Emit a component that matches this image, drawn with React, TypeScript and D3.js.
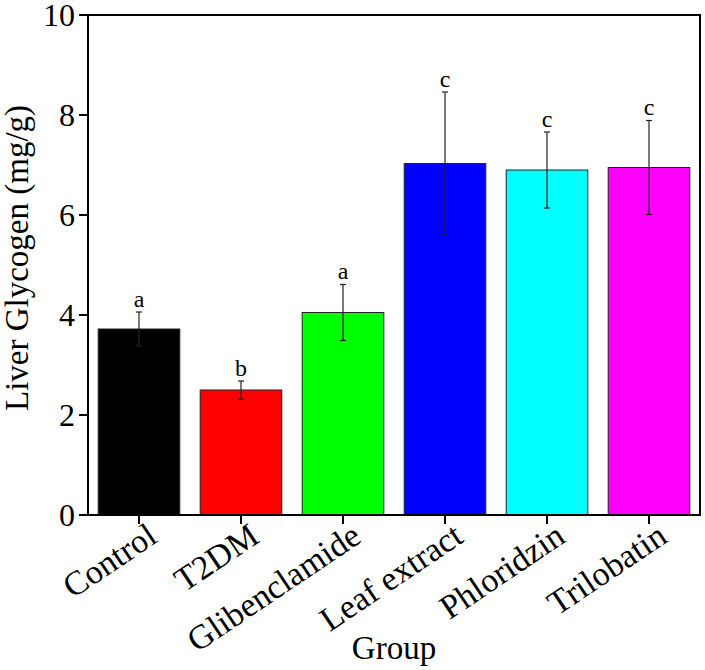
import React from "react";
import * as d3 from "d3";

const categories = ["Control", "T2DM", "Glibenclamide", "Leaf extract", "Phloridzin", "Trilobatin"];
const means = [3.72, 2.5, 4.05, 7.03, 6.9, 6.95];
const errors = [0.34, 0.18, 0.56, 1.43, 0.76, 0.94];
const letters = ["a", "b", "a", "c", "c", "c"];
const colors = ["#000000", "#ff0000", "#00ff00", "#0000ff", "#00ffff", "#ff00ff"];
const yTicks = [0, 2, 4, 6, 8, 10];

const W = 705;
const H = 670;
const left = 88;
const right = 700;
const top = 15;
const bottom = 515;
const font = "'Liberation Serif', 'Times New Roman', serif";

export default function App() {
  const x = d3.scaleBand<string>().domain(categories).range([left, right]).paddingInner(0.2).paddingOuter(0.1);
  const y = d3.scaleLinear().domain([0, 10]).range([bottom, top]);
  const bw = x.bandwidth();

  return (
    <svg width={W} height={H} style={{ position: "absolute", left: 0, top: 0, background: "#fff" }}>
      {categories.map((c, i) => {
        const cx = (x(c) as number) + bw / 2;
        const hi = y(means[i] + errors[i]);
        const lo = y(means[i] - errors[i]);
        return (
          <g key={c}>
            <rect x={x(c)} y={y(means[i])} width={bw} height={bottom - y(means[i])} fill={colors[i]} stroke="#222" strokeWidth={1} />
            <line x1={cx} x2={cx} y1={hi} y2={lo} stroke="#222" strokeWidth={1.2} />
            <line x1={cx - 3} x2={cx + 3} y1={hi} y2={hi} stroke="#222" strokeWidth={1.2} />
            <line x1={cx - 3} x2={cx + 3} y1={lo} y2={lo} stroke="#222" strokeWidth={1.2} />
            <text x={cx} y={hi - 5.5} textAnchor="middle" fontFamily={font} fontSize={24} fill="#000">
              {letters[i]}
            </text>
          </g>
        );
      })}
      {/* frame */}
      <rect x={left} y={top} width={right - left} height={bottom - top} fill="none" stroke="#000" strokeWidth={2} />
      {/* y ticks */}
      {yTicks.map((t) => (
        <g key={t}>
          <line x1={left - 9} x2={left} y1={y(t)} y2={y(t)} stroke="#000" strokeWidth={2} />
          <text x={left - 13} y={y(t)} dy="0.34em" textAnchor="end" fontFamily={font} fontSize={32} fill="#000">
            {t}
          </text>
        </g>
      ))}
      {/* x ticks */}
      {categories.map((c) => {
        const cx = (x(c) as number) + bw / 2;
        return (
          <g key={c}>
            <line x1={cx} x2={cx} y1={bottom} y2={bottom + 9} stroke="#000" strokeWidth={2} />
            <text
              transform={`translate(${cx + 20},${bottom + 26}) rotate(-34)`}
              textAnchor="end"
              fontFamily={font}
              fontSize={34}
              fill="#000"
            >
              {c}
            </text>
          </g>
        );
      })}
      <text x={(left + right) / 2} y={659} textAnchor="middle" fontFamily={font} fontSize={33} fill="#000">
        Group
      </text>
      <text transform={`translate(28,258) rotate(-90)`} textAnchor="middle" fontFamily={font} fontSize={33} fill="#000">
        Liver Glycogen (mg/g)
      </text>
    </svg>
  );
}
